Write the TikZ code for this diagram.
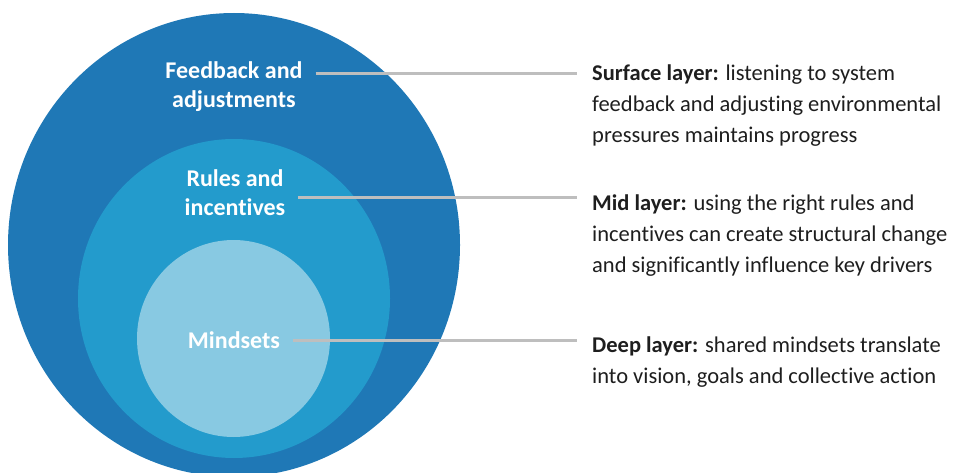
\documentclass[tikz,border=0pt]{standalone}
\usepackage{fontspec}
\setmainfont{Carlito}[Ligatures=NoCommon]
\usetikzlibrary{shapes.geometric}
\definecolor{outerblue}{RGB}{31,120,182}
\definecolor{midblue}{RGB}{35,155,204}
\definecolor{innerblue}{RGB}{136,201,226}
\definecolor{leadgrey}{RGB}{190,190,190}
\definecolor{bodytext}{RGB}{30,30,30}
\begin{document}
\begin{tikzpicture}[x=1pt,y=-1pt]
\tikzstyle{layer}=[ellipse,draw=none,inner sep=0pt]
\tikzstyle{tag}=[inner sep=0pt,anchor=base,align=center,text=white,font=\fontsize{24}{29}\selectfont\bfseries]
\tikzstyle{note}=[inner sep=0pt,anchor=base west,align=left,text=bodytext,font=\fontsize{22.5}{31}\selectfont]
\tikzstyle{lead}=[draw=leadgrey,line width=3pt,shorten <=13pt,shorten >=15pt]

\useasboundingbox (0,0) rectangle (958,473);

\node[layer,fill=outerblue,minimum width=452pt,minimum height=464pt] (outer) at (234,245) {};
\node[layer,fill=midblue,minimum width=312pt,minimum height=319pt] (mid) at (234,298.5) {};
\node[layer,fill=innerblue,minimum width=193pt,minimum height=197pt] (deep) at (233.5,338.5) {};

% base anchor sits on the last line
\node[tag] (fb) at (234,108) {Feedback and\\adjustments};
\node[tag] (ri) at (235,215) {Rules and\\incentives};
\node[tag] (ms) at (234,348) {Mindsets};

\node[note] (surf) at (592,142.5) {\textbf{Surface layer:} listening to system\\feedback and adjusting environmental\\pressures maintains progress};
\node[note] (midl) at (592,272.5) {\textbf{Mid layer:} using the right rules and\\incentives can create structural change\\and significantly influence key drivers};
\node[note] (deepl) at (592,383) {\textbf{Deep layer:} shared mindsets translate\\into vision, goals and collective action};

\coordinate (y1) at (0,74);
\coordinate (y2) at (0,197.5);
\coordinate (y3) at (0,340.5);

\draw[lead] (fb.east |- y1) -- (surf.west |- y1);
\draw[lead] (ri.east |- y2) -- (midl.west |- y2);
\draw[lead] (ms.east |- y3) -- (deepl.west |- y3);

\end{tikzpicture}
\end{document}
